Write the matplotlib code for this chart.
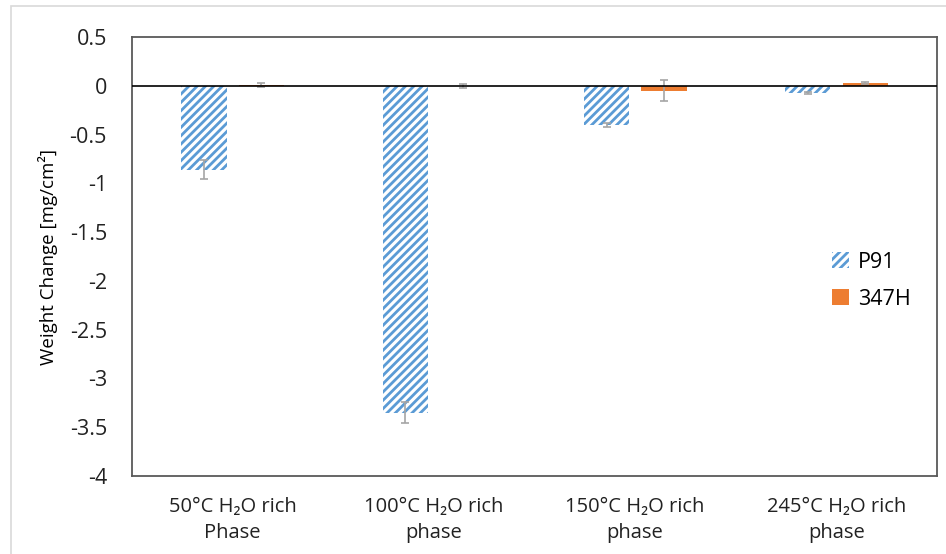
import matplotlib
matplotlib.use('Agg')
import matplotlib.pyplot as plt
import numpy as np
from matplotlib.patches import Rectangle
from matplotlib.ticker import FuncFormatter

plt.rcParams['font.family'] = ['Open Sans', 'DejaVu Sans']
plt.rcParams['hatch.linewidth'] = 2.0

# data
categories = ['50°C H₂O rich\nPhase', '100°C H₂O rich\nphase',
              '150°C H₂O rich\nphase', '245°C H₂O rich\nphase']
p91 = [-0.86, -3.35, -0.40, -0.07]
p91_err = [0.10, 0.11, 0.02, 0.01]
h347 = [0.01, 0.0, -0.05, 0.025]
h347_err = [0.02, 0.02, 0.11, 0.01]

blue = '#5B9BD5'
orange = '#ED7D31'
errc = '#A5A5A5'

fig = plt.figure(figsize=(9.46, 5.54), dpi=100)
ax = fig.add_axes([0.1395, 0.141, 0.851, 0.792])

x = np.arange(len(categories))
w = 0.225
ax.bar(x - 0.142, p91, w, color='white', edgecolor=blue, hatch='////',
       linewidth=0, label='P91', zorder=2)
ax.bar(x + 0.143, h347, w, color=orange, linewidth=0, label='347H', zorder=2)
ax.errorbar(x - 0.142, p91, yerr=p91_err, fmt='none', ecolor=errc,
            elinewidth=1.2, capsize=3, capthick=1.2, zorder=3)
ax.errorbar(x + 0.143, h347, yerr=h347_err, fmt='none', ecolor=errc,
            elinewidth=1.2, capsize=3, capthick=1.2, zorder=3)

ax.axhline(0, color='black', linewidth=1.2, zorder=4)
ax.set_xlim(-0.5, 3.5)
ax.set_ylim(-4, 0.5)
ax.set_yticks(np.arange(-4, 0.51, 0.5))
ax.yaxis.set_major_formatter(FuncFormatter(lambda v, p: '%g' % v))
ax.set_xticks(x)
ax.set_xticklabels(categories, fontsize=14.5, color='#222222', linespacing=1.45)
ax.tick_params(axis='y', labelsize=15.5, length=0, pad=18, colors='#222222')
ax.tick_params(axis='x', length=0, pad=15)
for s in ax.spines.values():
    s.set_color('#595959')
    s.set_linewidth(1.3)
ax.set_ylabel('Weight Change [mg/cm²]', fontsize=13.5, labelpad=8)

ax.legend(loc='center left', bbox_to_anchor=(0.846, 0.445), frameon=False,
          fontsize=15.5, handlelength=0.75, handleheight=0.75, handletextpad=0.45,
          labelspacing=0.75)

fig.patches.append(Rectangle((11 / 946, -0.1), 1.2, 1 - 6 / 554 + 0.1,
                             transform=fig.transFigure, fill=False,
                             edgecolor='#D9D9D9', linewidth=1.2))

fig.savefig('out.png', dpi=100)
